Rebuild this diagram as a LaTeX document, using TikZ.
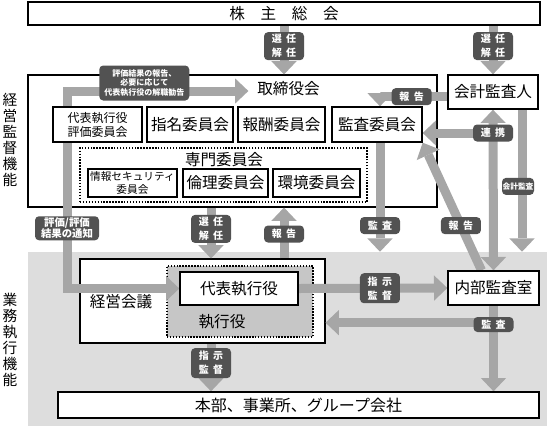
\documentclass[tikz,border=0pt]{standalone}
\usepackage{fontspec}
\setmainfont{Noto Sans CJK JP}
\usetikzlibrary{arrows.meta,calc}

\definecolor{bandgray}{RGB}{166,166,166}
\definecolor{taggray}{RGB}{82,82,82}
\definecolor{zonegray}{RGB}{221,221,221}
\definecolor{execgray}{RGB}{198,198,198}

\pgfdeclarelayer{back}
\pgfdeclarelayer{front}
\pgfsetlayers{back,main,front}

\tikzset{every picture/.style={line width=0.75pt}}
\tikzset{
  bigtext/.style={font=\fontsize{11.7}{14}\selectfont},
  box/.style={draw, fill=white, line width=1pt, inner sep=0pt, align=center, bigtext},
  dotbox/.style={draw, line width=1pt, dash pattern=on 1.1pt off 1.1pt},
  tag/.style={fill=taggray, text=white, rounded corners=3pt, inner sep=0pt, align=center,
    minimum width=30pt, minimum height=12.75pt, font=\fontsize{7.5}{10.5}\selectfont\bfseries},
  tagtwo/.style={tag, minimum height=21pt},
  band/.style={draw=bandgray, line width=6.75pt, -{Triangle[width=19pt,length=10pt,line width=0pt]}},
  twoway/.style={band, {Triangle[width=19pt,length=10pt,line width=0pt]}-{Triangle[width=19pt,length=10pt,line width=0pt]}},
}

\begin{document}
\begin{tikzpicture}[x=0.75pt,y=0.75pt,yscale=-1,xscale=1]
\useasboundingbox (0,0) rectangle (547,426);

% back: zones and frames
\begin{pgfonlayer}{back}
\node [fill=zonegray, minimum width=389.25pt, minimum height=130.5pt, inner sep=0pt] (zone) at (287.5,339) {};
\node [draw, fill=white, line width=0.8pt, minimum width=306.75pt, minimum height=99pt, inner sep=0pt] (board) at (232.5,141) {};
\node [bigtext, inner sep=6.5pt] (title) at (288.5,89) {取締役会};
\node [dotbox, minimum width=215.25pt, minimum height=40.5pt, inner sep=0pt] (senmon) at (223.5,175) {};
\node [bigtext, inner sep=0pt] (senmontitle) at (224,160) {専門委員会};
\node [draw, fill=white, line width=0.8pt, minimum width=183.75pt, minimum height=63pt, inner sep=0pt] (keiei) at (202.5,301) {};
\node [bigtext, inner sep=0pt] (keieititle) at (121,302) {経営会議};
\node [dotbox, fill=execgray, minimum width=109.5pt, minimum height=53.25pt, inner sep=0pt] (shikko) at (240,301.5) {};
\node [bigtext, inner sep=0pt] (shikkotitle) at (222,322) {執行役};
\end{pgfonlayer}

% front: boxes
\begin{pgfonlayer}{front}
\node [box, minimum width=384pt, minimum height=17.25pt] (soukai) at (284,13.5) {株　主　総　会};
\node [box, minimum width=66.75pt, minimum height=26.25pt, font=\fontsize{9}{10.5}\selectfont] (hyoka) at (97.5,124.5) {代表執行役\\評価委員会};
\node [box, minimum width=64.5pt, minimum height=26.25pt] (shimei) at (190,124.5) {指名委員会};
\node [box, minimum width=65.25pt, minimum height=26.25pt] (hoshu) at (281.5,124.5) {報酬委員会};
\node [box, minimum width=67.5pt, minimum height=26.25pt] (kansa) at (377,124.5) {監査委員会};
\node [box, minimum width=66.75pt, minimum height=21pt, font=\fontsize{8}{9.5}\selectfont] (joho) at (132.5,183) {情報セキュリティ\\委員会};
\node [box, minimum width=63.75pt, minimum height=21pt] (rinri) at (225.5,183) {倫理委員会};
\node [box, minimum width=65.25pt, minimum height=21pt] (kankyo) at (316.5,183) {環境委員会};
\node [box, minimum width=67.5pt, minimum height=25.5pt] (kaikei) at (493,92) {会計監査人};
\node [box, minimum width=88.5pt, minimum height=24.75pt] (daihyo) at (239,288.5) {代表執行役};
\node [box, minimum width=68.25pt, minimum height=25.5pt] (naibu) at (493.5,288) {内部監査室};
\node [box, minimum width=360.75pt, minimum height=19.5pt, font=\fontsize{12}{14}\selectfont] (honbu) at (298.5,405) {本部、事業所、グループ会社};
\node [align=center, inner sep=0pt, font=\fontsize{11}{12}\selectfont] (kantoku) at (10,140) {経\\営\\監\\督\\機\\能};
\node [align=center, inner sep=0pt, font=\fontsize{11}{12}\selectfont] (gyomu) at (10,340) {業\\務\\執\\行\\機\\能};
\end{pgfonlayer}

\coordinate (evaltop) at (67,91);
\coordinate (ctr) at (211,0);
\coordinate (kcol) at (522,0);
\coordinate (renkei) at (493,133);
\coordinate (kansapt) at ($(naibu.south)+(0,17)$);

% arrows
\draw [band] (soukai.south) -- node [tagtwo, pos=0.42] (t1) {選\hspace{.45em}任\\解\hspace{.45em}任} (soukai.south |- board.north);
\draw [band] (kaikei.north |- soukai.south) -- node [tagtwo, pos=0.42] (t2) {選\hspace{.45em}任\\解\hspace{.45em}任} (kaikei.north);
\draw [twoway] (title.west |- evaltop) -- node [tag, pos=0.574, yshift=6pt, minimum width=67.5pt, minimum height=26.25pt, font=\fontsize{6}{7}\selectfont\bfseries] (t3) {評価結果の報告、\\必要に応じて\\代表執行役の解職勧告} (evaltop) -- node [tag, pos=0.695, minimum width=48pt, minimum height=18pt, font=\fontsize{7.8}{8.4}\selectfont\bfseries] (t4) {評価/評価\\結果の通知} (evaltop |- daihyo.west) -- (daihyo.west);
\draw [band] (board.south -| ctr) -- node [tagtwo, pos=0.42] (t5) {選\hspace{.45em}任\\解\hspace{.45em}任} (keiei.north -| ctr);
\draw [band] (keiei.north -| soukai.south) -- node [tag, pos=0.48] (t6) {報\hspace{.45em}告} (board.south -| soukai.south);
\draw [band] ([xshift=2.25pt]kansa.south) -- node [tag, pos=0.76] (t7) {監\hspace{.45em}査} ([xshift=2.25pt]kansa.south |- zone.north);
\draw [band] ([xshift=-9pt]naibu.north) -- node [tag, pos=0.35] (t8) {報\hspace{.45em}告} (kansa.south east);
\draw [twoway] (kaikei.south) -- (naibu.north);
\draw [band] (renkei) node [tag] (t9) {連\hspace{.45em}携} -- (renkei -| kansa.east);
\draw [band] (kaikei.south -| kcol) -- node [tag, pos=0.54, xshift=-3pt, minimum width=24pt, font=\fontsize{5.8}{7}\selectfont\bfseries] (t10) {会計監査} (zone.north -| kcol);
\draw [band] ([yshift=3.5pt]kaikei.west) -| node [tag, pos=0.265] (t11) {報\hspace{.45em}告} ([xshift=2.25pt]kansa.north);
\draw [band] (daihyo.east) -- node [tag, pos=0.547, minimum height=22.5pt] (t12) {指\hspace{.45em}示\\監\hspace{.45em}督} (naibu.west);
\draw [band] (kansapt) -- (kansapt -| keiei.east);
\draw [band] (naibu.south) -- node [tag, pos=0.22, minimum height=11.25pt] (t13) {監\hspace{.45em}査} (naibu.south |- honbu.north);
\draw [band] (keiei.south -| ctr) -- node [tag, pos=0.41, minimum height=22.5pt] (t14) {指\hspace{.45em}示\\監\hspace{.45em}督} (honbu.north -| ctr);

\end{tikzpicture}
\end{document}
